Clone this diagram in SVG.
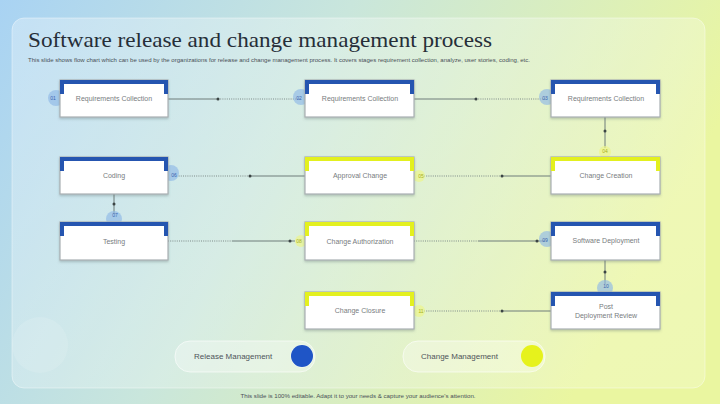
<svg xmlns="http://www.w3.org/2000/svg" width="720" height="404" viewBox="0 0 720 404">
<defs>
<linearGradient id="bg" x1="0" y1="0" x2="1" y2="0.3">
<stop offset="0" stop-color="#a9d3f3"/>
<stop offset="0.45" stop-color="#c9e6dc"/>
<stop offset="1" stop-color="#eaf6a0"/>
</linearGradient>
<linearGradient id="panel" x1="0" y1="0" x2="1" y2="1">
<stop offset="0" stop-color="#ffffff" stop-opacity="0.3"/>
<stop offset="1" stop-color="#ffffff" stop-opacity="0.2"/>
</linearGradient>
<filter id="sh" x="-10%" y="-10%" width="120%" height="130%">
<feDropShadow dx="0" dy="1.5" stdDeviation="1" flood-color="#5a6a6a" flood-opacity="0.35"/>
</filter>
<style>
.box{fill:#ffffff;stroke:#a9b0b2;stroke-width:1.2;filter:url(#sh)}
.blue{fill:none;stroke:#2555b0;stroke-width:4}
.yel{fill:none;stroke:#e3f01f;stroke-width:4}
.lbl{font-family:"Liberation Sans",Arial,sans-serif;font-size:7px;fill:#787c80;text-anchor:middle}
.bb{fill:#8fb8e6;fill-opacity:0.65}
.yb{fill:#edf58a;fill-opacity:0.7}
.bn{font-family:"Liberation Sans",Arial,sans-serif;font-size:5px;fill:#3a64b0;text-anchor:middle}
.yn{font-family:"Liberation Sans",Arial,sans-serif;font-size:5px;fill:#a8b020;text-anchor:middle}
.sl{stroke:#6f7c7a;stroke-width:1;fill:none}
.dl{stroke:#7d8a88;stroke-width:1;fill:none;stroke-dasharray:1 1.2}
.dot{fill:#3b4444}
.leg{fill:#ffffff;fill-opacity:0.3;stroke:#ffffff;stroke-opacity:0.6}
.lt{font-family:"Liberation Sans",Arial,sans-serif;font-size:8px;fill:#4e545a}
</style>
</defs>
<rect width="720" height="404" fill="url(#bg)"/>
<rect x="12" y="18" width="693" height="370" rx="12" fill="url(#panel)" stroke="#ffffff" stroke-opacity="0.4"/>
<circle cx="40" cy="345" r="28" fill="#ffffff" fill-opacity="0.12"/>
<text x="28" y="47" font-family="Liberation Serif,'Times New Roman',serif" font-size="22" fill="#262e38" textLength="464" lengthAdjust="spacingAndGlyphs">Software release and change management process</text>
<text x="28" y="62" font-family="Liberation Sans,Arial,sans-serif" font-size="4.6" fill="#4a5058" textLength="502" lengthAdjust="spacingAndGlyphs">This slide shows flow chart which can be used by the organizations for release and change management process. It covers stages requirement collection, analyze, user stories, coding, etc.</text>

<g id="connectors">
<path class="sl" d="M168 99H218"/><path class="dl" d="M218 99H301"/><circle class="dot" cx="218" cy="99" r="1.5"/>
<path class="sl" d="M414 99H476"/><path class="dl" d="M476 99H546"/><circle class="dot" cx="476" cy="99" r="1.5"/>
<path class="sl" d="M605 117V148"/><circle class="dot" cx="605" cy="131" r="1.5"/>
<path class="sl" d="M551 176H502"/><path class="dl" d="M502 176H424"/><circle class="dot" cx="502" cy="176" r="1.5"/>
<path class="sl" d="M305 176H250"/><path class="dl" d="M250 176H178"/><circle class="dot" cx="250" cy="176" r="1.5"/>
<path class="sl" d="M114 194V214"/><circle class="dot" cx="114" cy="204" r="1.5"/>
<path class="dl" d="M168 241H232"/><path class="sl" d="M232 241H295"/><circle class="dot" cx="290" cy="241" r="1.5"/>
<path class="dl" d="M414 241H478"/><path class="sl" d="M478 241H545"/><circle class="dot" cx="537" cy="241" r="1.5"/>
<path class="sl" d="M605 260V284"/><circle class="dot" cx="605" cy="272" r="1.5"/>
<path class="sl" d="M551 311H502"/><path class="dl" d="M502 311H424"/><circle class="dot" cx="502" cy="311" r="1.5"/>
</g>

<g id="n01">
<circle class="bb" cx="56" cy="98" r="8"/><text class="bn" x="53" y="100">01</text>
<rect class="box" x="60" y="80" width="108" height="37"/>
<path class="blue" d="M62 94V82H166V94"/>
<text class="lbl" x="114" y="101">Requirements Collection</text>
</g>
<g id="n02">
<circle class="bb" cx="301" cy="97" r="8"/><text class="bn" x="299" y="100">02</text>
<rect class="box" x="305" y="80" width="109" height="37"/>
<path class="blue" d="M307 94V82H412V94"/>
<text class="lbl" x="360" y="101">Requirements Collection</text>
</g>
<g id="n03">
<circle class="bb" cx="547" cy="97" r="8"/><text class="bn" x="545" y="100">03</text>
<rect class="box" x="551" y="80" width="109" height="37"/>
<path class="blue" d="M553 94V82H658V94"/>
<text class="lbl" x="606" y="101">Requirements Collection</text>
</g>
<g id="n04">
<circle class="yb" cx="605" cy="152" r="6" fill-opacity="0.4"/><text class="yn" x="605" y="153">04</text>
<rect class="box" x="551" y="157" width="109" height="37"/>
<path class="yel" d="M553 171V159H658V171"/>
<text class="lbl" x="606" y="178">Change Creation</text>
</g>
<g id="n05">
<circle class="yb" cx="419" cy="176" r="6"/><text class="yn" x="421" y="178">05</text>
<rect class="box" x="305" y="157" width="109" height="37"/>
<path class="yel" d="M307 171V159H412V171"/>
<text class="lbl" x="360" y="178">Approval  Change</text>
</g>
<g id="n06">
<circle class="bb" cx="171" cy="173" r="8"/><text class="bn" x="174" y="177">06</text>
<rect class="box" x="60" y="157" width="108" height="37"/>
<path class="blue" d="M62 171V159H166V171"/>
<text class="lbl" x="114" y="178">Coding</text>
</g>
<g id="n07">
<circle class="bb" cx="114" cy="219" r="8"/><text class="bn" x="115" y="217">07</text>
<rect class="box" x="60" y="222" width="108" height="38"/>
<path class="blue" d="M62 236V224H166V236"/>
<text class="lbl" x="114" y="244">Testing</text>
</g>
<g id="n08">
<circle class="yb" cx="301" cy="241" r="6"/><text class="yn" x="299" y="243">08</text>
<rect class="box" x="305" y="222" width="109" height="38"/>
<path class="yel" d="M307 236V224H412V236"/>
<text class="lbl" x="360" y="244">Change  Authorization</text>
</g>
<g id="n09">
<circle class="bb" cx="547" cy="239" r="8"/><text class="bn" x="545" y="242">09</text>
<rect class="box" x="551" y="222" width="109" height="38"/>
<path class="blue" d="M553 236V224H658V236"/>
<text class="lbl" x="606" y="243">Software  Deployment</text>
</g>
<g id="n10">
<circle class="bb" cx="605" cy="288" r="8"/><text class="bn" x="606" y="288">10</text>
<rect class="box" x="551" y="292" width="109" height="37"/>
<path class="blue" d="M553 306V294H658V306"/>
<text class="lbl" x="606" y="309">Post</text>
<text class="lbl" x="606" y="318">Deployment Review</text>
</g>
<g id="n11">
<circle class="yb" cx="419" cy="311" r="6"/><text class="yn" x="421" y="313">11</text>
<rect class="box" x="305" y="292" width="109" height="37"/>
<path class="yel" d="M307 306V294H412V306"/>
<text class="lbl" x="360" y="313">Change  Closure</text>
</g>

<g id="legend-release">
<rect class="leg" x="175" y="341" width="140" height="31" rx="15"/>
<text class="lt" x="194" y="359">Release Management</text>
<circle cx="302" cy="356" r="11.5" fill="#ffffff" fill-opacity="0.6"/>
<circle cx="302" cy="356" r="11" fill="#1f55c6"/>
</g>
<g id="legend-change">
<rect class="leg" x="403" y="341" width="142" height="31" rx="15"/>
<text class="lt" x="421" y="359">Change Management</text>
<circle cx="532" cy="356" r="11" fill="#e6f21c"/>
</g>
<text x="358" y="398" font-family="Liberation Sans,Arial,sans-serif" font-size="4.8" fill="#4a5058" text-anchor="middle" textLength="235" lengthAdjust="spacingAndGlyphs">This slide is 100% editable. Adapt it to your needs &amp; capture your audience's attention.</text>
</svg>
